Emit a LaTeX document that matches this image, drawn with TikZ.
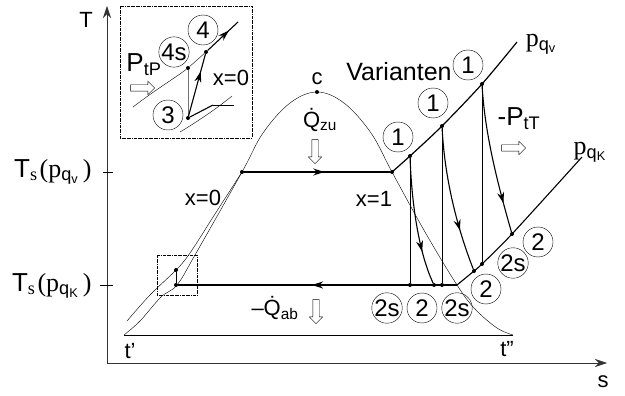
\documentclass[tikz,border=0pt]{standalone}
\usepackage{fontspec}
\setmainfont{Liberation Sans}
\newfontfamily\pfont{Liberation Serif}
\usetikzlibrary{arrows.meta, shapes.arrows, decorations.markings}

\newcommand{\sbs}[1]{\textsubscript{#1}}

\tikzset{
  lbl/.style={circle, draw, thin, inner sep=0pt, minimum size=30pt, font=\fontsize{24}{24}\selectfont},
  dot/.style={circle, fill, inner sep=0pt, minimum size=4pt},
  hollow/.style={single arrow, draw, thin, inner sep=3pt, minimum height=24pt, single arrow head extend=3.5pt},
  flow/.style={postaction={decorate}, decoration={markings, mark=at position #1 with {\arrow{Stealth[length=11pt,width=7pt]}}}},
  cycle line/.style={line width=1.4pt},
  boxline/.style={densely dash dot, line width=0.9pt},
  big/.style={font=\fontsize{26}{28}\selectfont},
}

\begin{document}
\begin{tikzpicture}[x=1pt, y=-1pt, font=\fontsize{22}{24}\selectfont]
  \useasboundingbox (0,0) rectangle (625,396);

  % axes
  \coordinate (O) at (107,363);
  \draw[black!80, semithick, -{Stealth[length=12pt,width=8pt]}] (O) -- (107,6);
  \draw[black!80, semithick, -{Stealth[length=12pt,width=8pt]}] (O) -- (607,363);
  \node (Tlab) at (86,20) {T};
  \node (slab) at (603,382) {s};

  % ticks
  \draw (103,172) -- (113,172);
  \draw (100,285) -- (113,285);
  \node[big, anchor=east] (Tv) at (95,172) {T\sbs{\pfont s}\hspace{2pt}{\pfont (p}\sbs{q\sbs{v}}\hspace{4pt}{\pfont )}};
  \node[big, anchor=east] (Tk) at (95,286) {T\sbs{\pfont s}\hspace{2pt}{\pfont (p}\sbs{q\sbs{K}}\hspace{4pt}{\pfont )}};

  % triple point line
  \coordinate (tl) at (124,335);
  \coordinate (tr) at (513,335);
  \draw[semithick] (tl) -- (tr);
  \node (tlab) at (130,351) {t'};
  \node (ttlab) at (507,349) {t''};

  % saturation dome
  \draw[thin] plot[smooth, tension=0.6] coordinates {(124,335) (140,321) (161,297) (177,285) (195,255) (242,172) (263,133) (290,103) (317,92) (344,103) (371,133) (392,172) (425,232) (457,285) (475,309) (497,328) (513,335)};
  % liquid isobar p_qv
  \draw[thin] plot[smooth, tension=0.6] coordinates {(127,321) (150,295) (176,270) (190,253) (215,214) (242,172)};

  \node[dot] (crit) at (317,92) {};
  \node (clab) at (317,79) {c};

  % cycle points
  \node[dot] (p3) at (176,285) {};
  \node[dot] (p4) at (176,270) {};
  \node[dot] (pA) at (242,172) {};
  \node[dot] (pB) at (392,172) {};
  \node[dot] (p1a) at (410,156) {};
  \node[dot] (p1b) at (442,126) {};
  \node[dot] (p1c) at (482,84) {};
  \node[dot] (p2sa) at (410,285) {};
  \node[dot] (p2a) at (434,285) {};
  \node[dot] (p2sb) at (442,285) {};
  \node[dot] (p2b) at (474,271) {};
  \node[dot] (p2sc) at (482,264) {};
  \node[dot] (p2c) at (512,234) {};
  \coordinate (pK) at (457,285);

  % isobars
  \draw[line width=1.2pt] plot[smooth, tension=0.5] coordinates {(392,172) (410,156) (442,126) (482,84) (517,42)};
  \draw[line width=1.1pt] plot[smooth, tension=0.5] coordinates {(457,285) (474,271) (482,264) (512,234) (582,157)};
  \node[big] (pv) at (541,44) {{\pfont p}\sbs{q\sbs{v}}};
  \node[big] (pk) at (590,152) {{\pfont p}\sbs{q\sbs{K}}};

  % evaporation and condensation
  \draw[cycle line, flow=0.55] (pA) -- (pB);
  \draw[cycle line, flow=0.52] (pK) -- (p3);
  \draw[semithick] (p3) -- (p4);

  % variants of expansion
  \draw[thin] (p1a) -- (p2sa);
  \draw[thin] (p1b) -- (p2sb);
  \draw[thin] (p1c) -- (p2sc);
  \draw[line width=1.1pt, flow=0.74] (p1a) .. controls (412,210) and (420,255) .. (p2a);
  \draw[line width=1.1pt, flow=0.72] (p1b) .. controls (445,185) and (460,235) .. (p2b);
  \draw[line width=1.1pt, flow=0.8] (p1c) .. controls (485,135) and (498,185) .. (p2c);

  % labels
  \node (x0) at (203,198) {x=0};
  \node (x1) at (374,199) {x=1};
  \node[font=\fontsize{25}{25}\selectfont] (var) at (399,72) {Varianten};
  \node[lbl] (l1a) at (398,137) {1};
  \node[lbl] (l1b) at (433,103) {1};
  \node[lbl] (l1c) at (468,65) {1};
  \node[lbl] (l2sa) at (387,308) {2s};
  \node[lbl] (l2a) at (422,308) {2};
  \node[lbl] (l2sb) at (457,308) {2s};
  \node[lbl] (l2b) at (486,289) {2};
  \node[lbl] (l2sc) at (513,263) {2s};
  \node[lbl] (l2c) at (538,242) {2};

  \node (Qzu) at (320,120) {\.Q\sbs{zu}};
  \node[hollow, shape border rotate=270] (Qzuarr) at (315,150) {};
  \node (Qab) at (275,308) {\textendash\.Q\sbs{ab}};
  \node[hollow, shape border rotate=270] (Qabarr) at (316,310) {};
  \node[big] (PtT) at (519,119) {-P\sbs{tT}};
  \node[hollow] (PtTarr) at (512,148) {};

  % marked region and its enlargement
  \draw[boxline] (157,255) rectangle (197,295);
  \draw[boxline] (120,6) rectangle (252,138);

  \node[dot] (i3) at (188,118) {};
  \node[dot] (i4s) at (188,68) {};
  \node[dot] (i4) at (206,52) {};
  \coordinate (iend) at (238,22);
  \coordinate (ik) at (213,105);
  \coordinate (ik2) at (234,105);
  \draw[thin] (133,107) .. controls (155,90) and (175,78) .. (i4s) -- (i4);
  \draw[thin] (180,132) .. controls (195,123) and (215,110) .. (232,96);
  \draw[black!55, semithick] (i3) -- (i4s);
  \draw[line width=1.1pt, flow=0.72] (i3) -- (i4);
  \draw[line width=1.1pt, flow=0.7] (i4) -- (iend);
  \draw[line width=1.1pt] (i3) -- (ik);
  \draw[thin] (ik) -- (ik2);

  \node[big] (PtP) at (144,65) {P\sbs{tP}};
  \node[hollow] (PtParr) at (141,88) {};
  \node[lbl] (l4s) at (174,52) {4s};
  \node[lbl] (l4) at (203,30) {4};
  \node[lbl] (l3) at (168,115) {3};
  \node (ix0) at (231,78) {x=0};
\end{tikzpicture}
\end{document}
